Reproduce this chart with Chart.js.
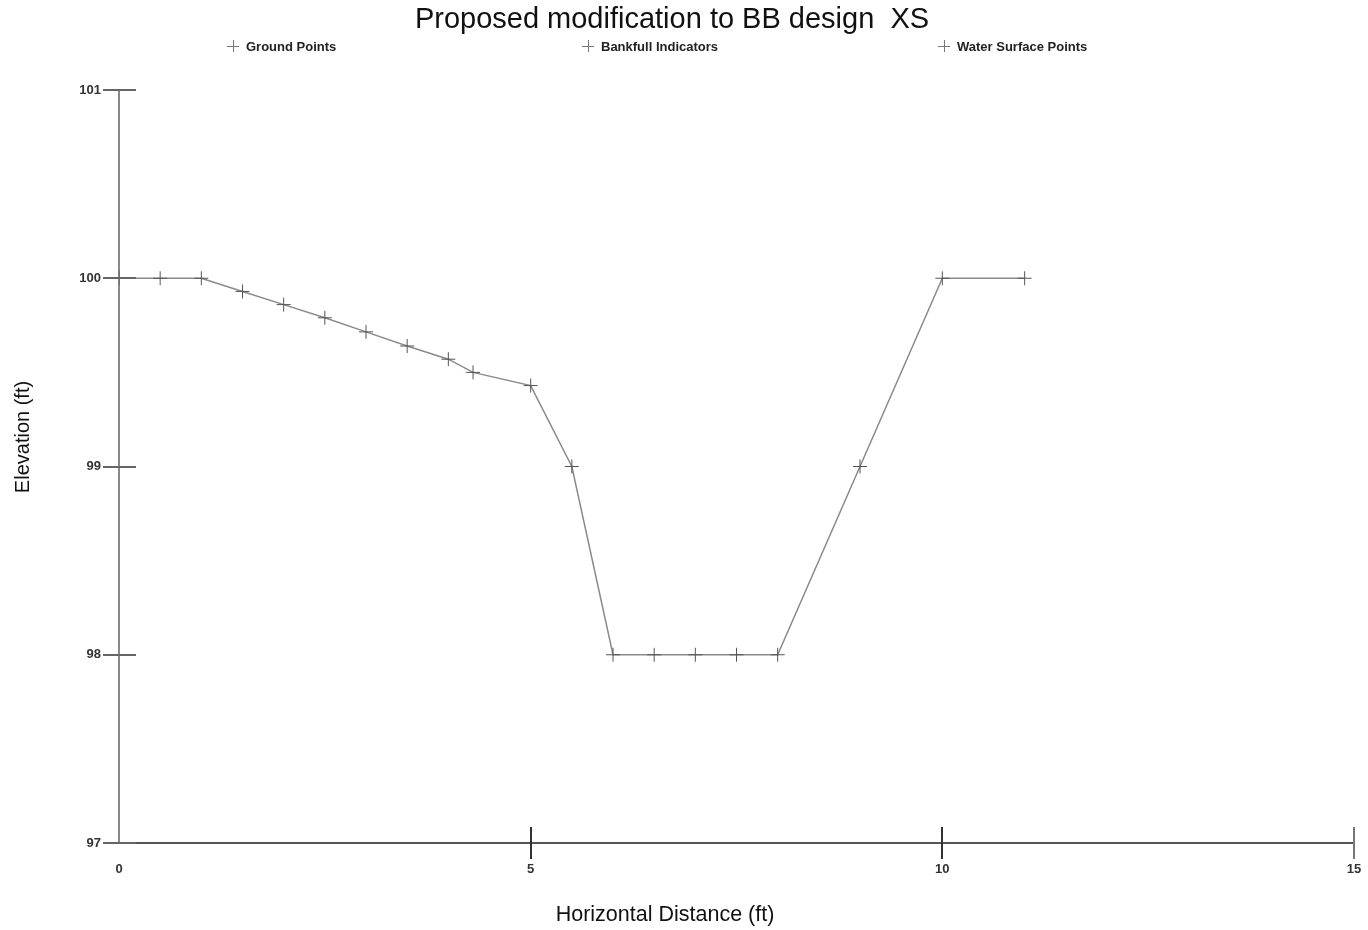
<!DOCTYPE html>
<html>
<head>
<meta charset="utf-8">
<script src="https://cdn.jsdelivr.net/npm/chart.js@4/dist/chart.umd.min.js"></script>
<style>
html,body{margin:0;padding:0;background:#fff;}
#wrap{width:1368px;height:930px;position:relative;}
</style>
</head>
<body>
<div id="wrap"><canvas id="c" width="1368" height="930"></canvas></div>
<script>
// ---- data ----
const chartTitle = "Proposed modification to BB design  XS";
const seriesNames = ["Ground Points", "Bankfull Indicators", "Water Surface Points"];
const groundX = [0, 0.5, 1.0, 1.5, 2.0, 2.5, 3.0, 3.5, 4.0, 4.3, 5.0, 5.5, 6.0, 6.5, 7.0, 7.5, 8.0, 9.0, 10.0, 11.0];
const groundY = [100, 100, 100, 99.93, 99.86, 99.79, 99.715, 99.64, 99.57, 99.5, 99.43, 99.0, 98, 98, 98, 98, 98, 99.0, 100, 100];
const bankfullX = [];
const bankfullY = [];
const waterX = [];
const waterY = [];
const xTicks = [0, 5, 10, 15];
const yTicks = [97, 98, 99, 100, 101];
const xTitle = "Horizontal Distance (ft)";
const yTitle = "Elevation (ft)";

function pts(xs, ys){ return xs.map((x,i)=>({x:x, y:ys[i]})); }

const FONT = "'Liberation Sans', Arial, sans-serif";

// ---- plugins: crossing tick marks, titles, legend ----
const decor = {
  id: 'decor',
  afterDatasetsDraw(chart){
    const ctx = chart.ctx, xs = chart.scales.x, ys = chart.scales.y, a = chart.chartArea;
    ctx.save();
    ctx.lineWidth = 2;
    yTicks.forEach(v=>{
      const p = Math.round(ys.getPixelForValue(v));
      ctx.strokeStyle = '#666';
      ctx.beginPath(); ctx.moveTo(a.left-16, p); ctx.lineTo(a.left+17, p); ctx.stroke();
    });
    xTicks.forEach(v=>{
      if (v === xTicks[0]) return;
      const p = Math.round(xs.getPixelForValue(v));
      ctx.strokeStyle = v === xTicks[xTicks.length-1] ? '#777' : '#333';
      ctx.beginPath(); ctx.moveTo(p, a.bottom-16); ctx.lineTo(p, a.bottom+16); ctx.stroke();
    });
    ctx.restore();
  },
  afterDraw(chart){
    const ctx = chart.ctx;
    ctx.save();
    ctx.fillStyle = '#111';
    ctx.textAlign = 'center';
    ctx.textBaseline = 'middle';
    ctx.font = "29px " + FONT;
    ctx.fillText(chartTitle, 672, 20);
    ctx.font = "21.5px " + FONT;
    ctx.fillText(xTitle, 665, 915);
    ctx.translate(23, 437);
    ctx.rotate(-Math.PI/2);
    ctx.font = "20px " + FONT;
    ctx.fillText(yTitle, 0, 0);
    ctx.restore();

    // legend
    const lx = [233, 588, 944], ly = 46;
    ctx.save();
    ctx.font = "bold 13px " + FONT;
    ctx.textAlign = 'left';
    ctx.textBaseline = 'middle';
    seriesNames.forEach((n,i)=>{
      ctx.strokeStyle = '#777'; ctx.lineWidth = 1;
      ctx.beginPath();
      ctx.moveTo(lx[i]-6, ly+0.5); ctx.lineTo(lx[i]+6, ly+0.5);
      ctx.moveTo(lx[i]+0.5, ly-6); ctx.lineTo(lx[i]+0.5, ly+6);
      ctx.stroke();
      ctx.fillStyle = '#222';
      ctx.fillText(n, lx[i]+13, ly+1);
    });
    ctx.restore();
  }
};

new Chart(document.getElementById('c'), {
  type: 'scatter',
  data: {
    datasets: [
      { label: seriesNames[0], data: pts(groundX, groundY), showLine: true,
        borderColor: '#8a8a8a', borderWidth: 1.5, pointStyle: 'cross', pointRadius: 7,
        pointBorderColor: '#555', pointBorderWidth: 1, pointBackgroundColor: '#555' },
      { label: seriesNames[1], data: pts(bankfullX, bankfullY), showLine: false,
        borderColor: '#777', pointStyle: 'cross', pointRadius: 7 },
      { label: seriesNames[2], data: pts(waterX, waterY), showLine: false,
        borderColor: '#777', pointStyle: 'cross', pointRadius: 7 }
    ]
  },
  options: {
    responsive: false,
    animation: false,
    layout: { padding: { left: 0, right: 14, top: 90, bottom: 0 } },
    plugins: {
      legend: { display: false },
      tooltip: { enabled: false },
      title: { display: false }
    },
    scales: {
      x: {
        type: 'linear', min: 0, max: 15,
        afterBuildTicks(s){ s.ticks = xTicks.map(v=>({value:v})); },
        afterFit(s){ s.height = 87; s.paddingLeft = 0; s.paddingRight = 0; },
        grid: { display: false, drawTicks: false },
        border: { display: true, color: '#555', width: 2 },
        ticks: { color: '#333', padding: 19, font: { family: FONT, size: 13, weight: 'bold' } }
      },
      y: {
        type: 'linear', min: 97, max: 101,
        afterBuildTicks(s){ s.ticks = yTicks.map(v=>({value:v})); },
        afterFit(s){ s.width = 119; s.paddingTop = 0; s.paddingBottom = 0; },
        grid: { display: false, drawTicks: false },
        border: { display: true, color: '#888', width: 2 },
        ticks: { color: '#333', padding: 18, font: { family: FONT, size: 13, weight: 'bold' } }
      }
    }
  },
  plugins: [decor]
});
</script>
</body>
</html>
